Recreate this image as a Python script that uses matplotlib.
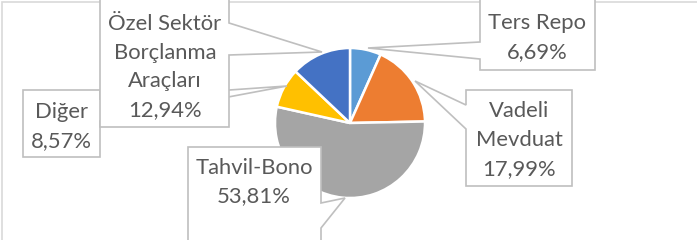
import matplotlib
matplotlib.use("Agg")
import matplotlib.pyplot as plt
from matplotlib.patches import Polygon

# Data
categories = ["Ters Repo", "Vadeli\nMevduat", "Tahvil-Bono", "Diğer", "Özel Sektör\nBorçlanma\nAraçları"]
values = [6.69, 17.99, 53.81, 8.57, 12.94]
value_labels = ["6,69%", "17,99%", "53,81%", "8,57%", "12,94%"]
colors = ["#5B9BD5", "#ED7D31", "#A5A5A5", "#FFC000", "#4472C4"]

W, H = 697, 240
fig = plt.figure(figsize=(W / 100, H / 100), dpi=100)
fig.patch.set_facecolor("white")

# pie axes: centre (350,123) px, radius 75 px
cx, cy, r = 350, 123, 75
ax = fig.add_axes([(cx - r) / W, (H - cy - r) / H, 2 * r / W, 2 * r / H])
ax.pie(values, colors=colors, startangle=90, counterclock=False,
       wedgeprops=dict(edgecolor="white", linewidth=1.8))
ax.set_xlim(-1, 1)
ax.set_ylim(-1, 1)
ax.set_aspect("equal")
ax.axis("off")

# overlay in pixel coordinates
ov = fig.add_axes([0, 0, 1, 1], zorder=5)
ov.set_xlim(0, W)
ov.set_ylim(H, 0)
ov.axis("off")
ov.patch.set_alpha(0)

# chart border (only left and top visible)
ov.add_patch(Polygon([(2, 260), (2, 2), (710, 2)], closed=False, fill=False,
                     edgecolor="#D9D9D9", linewidth=1.2))

edge = "#BFBFBF"
txtcol = "#595959"
fontfam = ["Lato", "DejaVu Sans"]
fs = 15.8


def callout(box, side, base, tip):
    x0, y0, x1, y1 = box
    b1, b2 = base
    if side == "right":
        pts = [(x0, y0), (x1, y0), (x1, b1), tip, (x1, b2), (x1, y1), (x0, y1)]
    else:
        pts = [(x0, y0), (x1, y0), (x1, y1), (x0, y1), (x0, b2), tip, (x0, b1)]
    ov.add_patch(Polygon(pts, closed=True, facecolor="white", edgecolor=edge,
                         linewidth=1.2))


def label(x, y, s):
    ov.text(x, y, s, ha="center", va="center", color=txtcol, fontsize=fs,
            family=fontfam, linespacing=1.55)


# Diğer (drawn first; its tail passes behind the Özel box)
callout((23, 90, 100, 157), "right", (99, 121), (287, 86))
label(61.5, 126.5, categories[3] + "\n" + value_labels[3])

# Özel Sektör
callout((100, -5, 229, 127), "right", (23, 55), (322, 52))
label(165, 67, categories[4] + "\n" + value_labels[4])

# Tahvil-Bono
callout((188, 147, 321, 260), "right", (203, 228), (345, 198))
label(254, 182, categories[2] + "\n" + value_labels[2])

# Ters Repo
callout((480, -5, 595, 70), "left", (42, 59), (368, 48))
label(537.5, 37.5, categories[0] + "\n" + value_labels[0])

# Vadeli Mevduat
callout((466, 90, 572, 186), "left", (105, 129), (415, 81))
label(519, 140, categories[1] + "\n" + value_labels[1])

fig.savefig("out.png", dpi=100, facecolor="white")
